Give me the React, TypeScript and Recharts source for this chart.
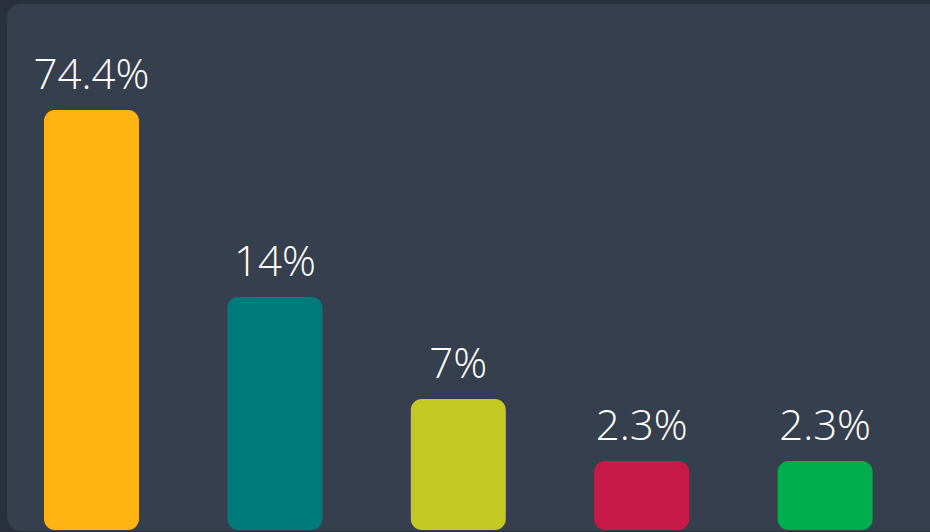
import { BarChart, Bar, XAxis, YAxis, Cell, LabelList } from 'recharts';

// shares shown as labels, bar levels (not linear in the share)
const categories = ['A', 'B', 'C', 'D', 'E'];
const shareLabels = ['74.4%', '14%', '7%', '2.3%', '2.3%'];
const barLevels = [100, 55.5, 31.2, 16.4, 16.4];
const barColors = ['#FFB414', '#007A7A', '#C3C922', '#C81A48', '#00AE4E'];

const data = categories.map((name, i) => ({
  name,
  level: barLevels[i],
  label: shareLabels[i],
}));

export default function App() {
  return (
    <div
      style={{
        position: 'absolute',
        left: 0,
        top: 0,
        width: 930,
        height: 532,
        background: '#2a303b',
        overflow: 'hidden',
      }}
    >
      <div
        style={{
          position: 'absolute',
          left: 7,
          top: 4,
          width: 940,
          height: 527,
          borderRadius: 14,
          background: '#363f4e',
        }}
      />
      <div style={{ position: 'absolute', left: 0, top: 0 }}>
        <BarChart
          width={917}
          height={530}
          data={data}
          margin={{ top: 110, right: 0, left: 0, bottom: 0 }}
        >
          <XAxis dataKey="name" hide />
          <YAxis hide domain={[0, 100]} />
          <Bar dataKey="level" barSize={95} radius={11} isAnimationActive={false}>
            {data.map((d, i) => (
              <Cell key={d.name} fill={barColors[i]} />
            ))}
            <LabelList
              dataKey="label"
              position="top"
              offset={21}
              fill="#ffffff"
              style={{ fontFamily: '"Open Sans", sans-serif', fontSize: 42, fontWeight: 300 }}
            />
          </Bar>
        </BarChart>
      </div>
    </div>
  );
}
